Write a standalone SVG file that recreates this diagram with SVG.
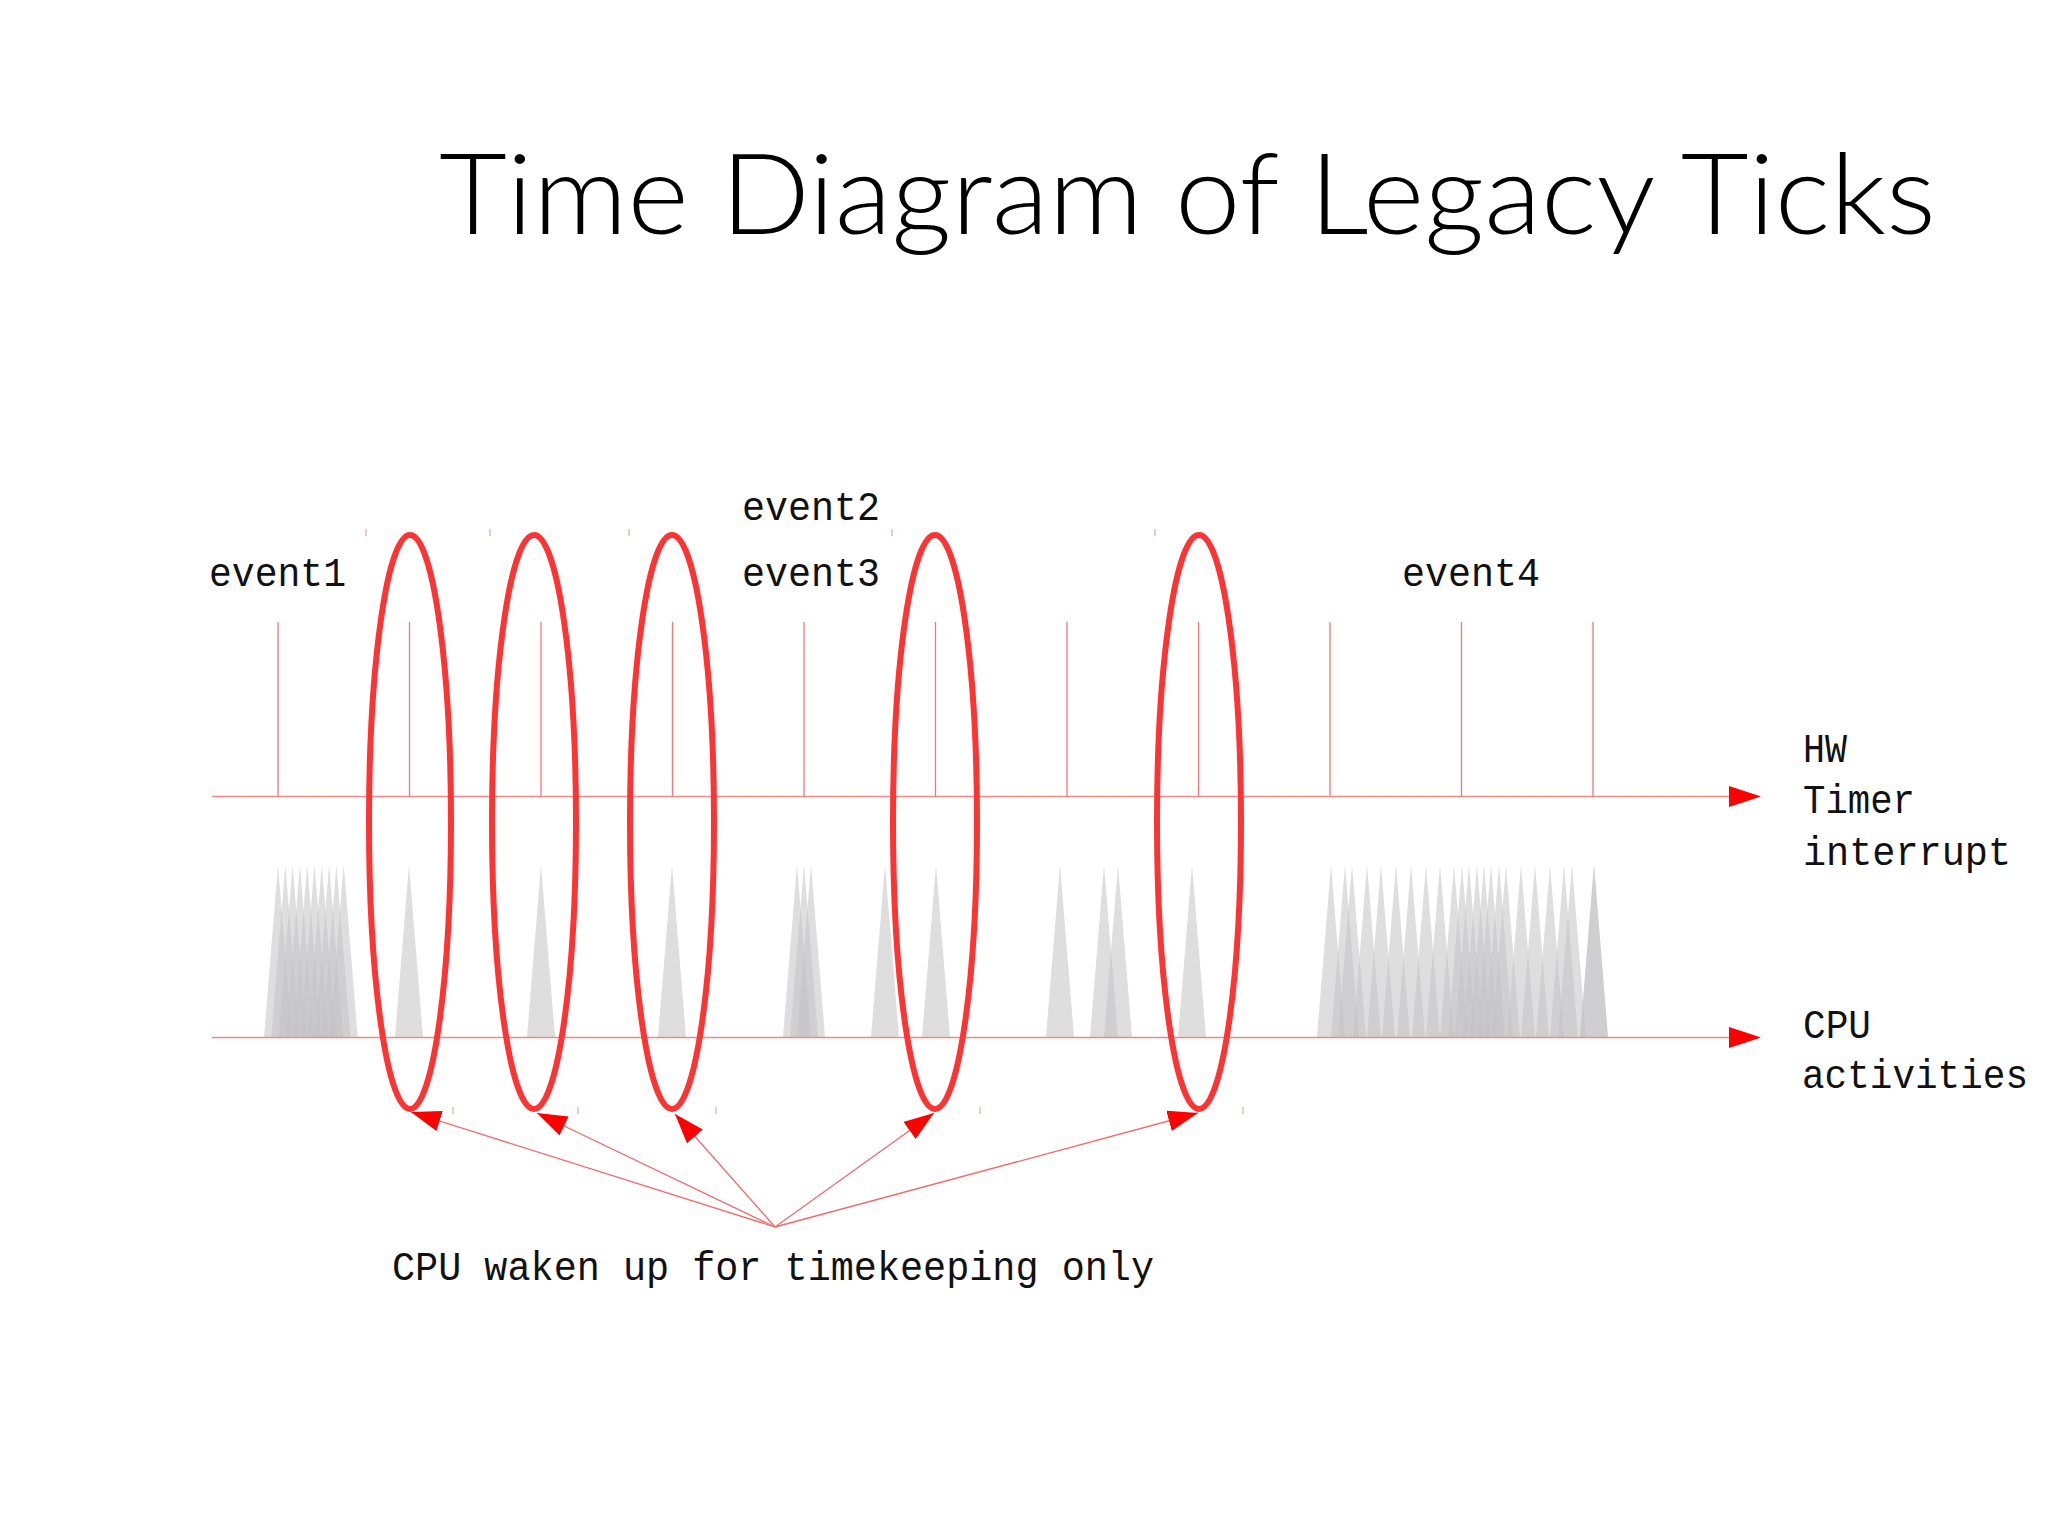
<svg xmlns="http://www.w3.org/2000/svg" xmlns:xlink="http://www.w3.org/1999/xlink" width="2048" height="1535" viewBox="0 0 2048 1535">
<style>
.title{font-family:Lato,"Open Sans","Liberation Sans",sans-serif;font-weight:300;font-size:113px;fill:#000}
.lbl{font-family:"Liberation Mono","DejaVu Sans Mono",monospace;font-size:40px;fill:#111}
.axis{stroke:#f08a8a;stroke-width:1.6;fill:none}
.tick{stroke:#f07878;stroke-width:1.3}
.spike{fill:#c2c2c4;fill-opacity:0.55}
.loop{fill:none;stroke:#fc3434;stroke-width:6}
.conn{stroke:#f06a6a;stroke-width:1.3;fill:none}
.head{fill:#ff0000}
.mark{stroke:#f2a0a0;stroke-width:1.2}
</style>
<defs>
<path id="sp" d="M0,865 L-14,1037 L14,1037 Z"/>
<marker id="arr" markerUnits="userSpaceOnUse" viewBox="0 0 30 21" markerWidth="30" markerHeight="21" refX="30" refY="10.5" orient="auto">
<path d="M0,0 L30,10.5 L0,21 Z" class="head"/>
</marker>
</defs>
<rect x="0" y="0" width="2048" height="1535" fill="#ffffff"/>

<g id="title">
<text class="title" x="439" y="234" textLength="1497" lengthAdjust="spacingAndGlyphs">Time Diagram of Legacy Ticks</text>
</g>

<g id="event-labels">
<text class="lbl" x="209" y="586" textLength="137" lengthAdjust="spacingAndGlyphs">event1</text>
<text class="lbl" x="742" y="520" textLength="138" lengthAdjust="spacingAndGlyphs">event2</text>
<text class="lbl" x="742" y="586" textLength="138" lengthAdjust="spacingAndGlyphs">event3</text>
<text class="lbl" x="1402" y="586" textLength="138" lengthAdjust="spacingAndGlyphs">event4</text>
</g>

<g id="hw-timer-axis">
<line class="axis" x1="212" y1="796.5" x2="1732" y2="796.5"/>
<path class="head" d="M1729,786 L1761,796.5 L1729,807 Z"/>
<g id="ticks">
<line class="tick" x1="278" y1="622" x2="278" y2="796"/>
<line class="tick" x1="409.5" y1="622" x2="409.5" y2="796"/>
<line class="tick" x1="541" y1="622" x2="541" y2="796"/>
<line class="tick" x1="672.5" y1="622" x2="672.5" y2="796"/>
<line class="tick" x1="804" y1="622" x2="804" y2="796"/>
<line class="tick" x1="935.5" y1="622" x2="935.5" y2="796"/>
<line class="tick" x1="1067" y1="622" x2="1067" y2="796"/>
<line class="tick" x1="1198.5" y1="622" x2="1198.5" y2="796"/>
<line class="tick" x1="1330" y1="622" x2="1330" y2="796"/>
<line class="tick" x1="1461.5" y1="622" x2="1461.5" y2="796"/>
<line class="tick" x1="1593" y1="622" x2="1593" y2="796"/>
</g>
<text class="lbl" x="1803" y="762" textLength="44" lengthAdjust="spacingAndGlyphs">HW</text>
<text class="lbl" x="1803" y="813" textLength="112" lengthAdjust="spacingAndGlyphs">Timer</text>
<text class="lbl" x="1803" y="865" textLength="208" lengthAdjust="spacingAndGlyphs">interrupt</text>
</g>

<g id="cpu-activities">
<g id="spikes">
<use xlink:href="#sp" href="#sp" class="spike" x="278"/>
<use xlink:href="#sp" href="#sp" class="spike" x="285.3"/>
<use xlink:href="#sp" href="#sp" class="spike" x="292.6"/>
<use xlink:href="#sp" href="#sp" class="spike" x="299.9"/>
<use xlink:href="#sp" href="#sp" class="spike" x="307.2"/>
<use xlink:href="#sp" href="#sp" class="spike" x="314.5"/>
<use xlink:href="#sp" href="#sp" class="spike" x="321.8"/>
<use xlink:href="#sp" href="#sp" class="spike" x="329.1"/>
<use xlink:href="#sp" href="#sp" class="spike" x="336.4"/>
<use xlink:href="#sp" href="#sp" class="spike" x="343.7"/>
<use xlink:href="#sp" href="#sp" class="spike" x="409"/>
<use xlink:href="#sp" href="#sp" class="spike" x="541"/>
<use xlink:href="#sp" href="#sp" class="spike" x="672"/>
<use xlink:href="#sp" href="#sp" class="spike" x="797"/>
<use xlink:href="#sp" href="#sp" class="spike" x="804"/>
<use xlink:href="#sp" href="#sp" class="spike" x="811"/>
<use xlink:href="#sp" href="#sp" class="spike" x="885"/>
<use xlink:href="#sp" href="#sp" class="spike" x="936"/>
<use xlink:href="#sp" href="#sp" class="spike" x="1060"/>
<use xlink:href="#sp" href="#sp" class="spike" x="1104"/>
<use xlink:href="#sp" href="#sp" class="spike" x="1118"/>
<use xlink:href="#sp" href="#sp" class="spike" x="1192"/>
<use xlink:href="#sp" href="#sp" class="spike" x="1331"/>
<use xlink:href="#sp" href="#sp" class="spike" x="1345"/>
<use xlink:href="#sp" href="#sp" class="spike" x="1352"/>
<use xlink:href="#sp" href="#sp" class="spike" x="1367"/>
<use xlink:href="#sp" href="#sp" class="spike" x="1381"/>
<use xlink:href="#sp" href="#sp" class="spike" x="1396"/>
<use xlink:href="#sp" href="#sp" class="spike" x="1411"/>
<use xlink:href="#sp" href="#sp" class="spike" x="1426"/>
<use xlink:href="#sp" href="#sp" class="spike" x="1440"/>
<use xlink:href="#sp" href="#sp" class="spike" x="1454"/>
<use xlink:href="#sp" href="#sp" class="spike" x="1462"/>
<use xlink:href="#sp" href="#sp" class="spike" x="1469"/>
<use xlink:href="#sp" href="#sp" class="spike" x="1477"/>
<use xlink:href="#sp" href="#sp" class="spike" x="1484"/>
<use xlink:href="#sp" href="#sp" class="spike" x="1491"/>
<use xlink:href="#sp" href="#sp" class="spike" x="1499"/>
<use xlink:href="#sp" href="#sp" class="spike" x="1506"/>
<use xlink:href="#sp" href="#sp" class="spike" x="1521"/>
<use xlink:href="#sp" href="#sp" class="spike" x="1535"/>
<use xlink:href="#sp" href="#sp" class="spike" x="1550"/>
<use xlink:href="#sp" href="#sp" class="spike" x="1564"/>
<use xlink:href="#sp" href="#sp" class="spike" x="1572"/>
<use xlink:href="#sp" href="#sp" class="spike" x="1594"/>
<use xlink:href="#sp" href="#sp" class="spike" x="1594"/>
</g>
<line class="axis" x1="212" y1="1037.5" x2="1732" y2="1037.5"/>
<path class="head" d="M1729,1027 L1761,1037.5 L1729,1048 Z"/>
<text class="lbl" x="1803" y="1038" textLength="68" lengthAdjust="spacingAndGlyphs">CPU</text>
<text class="lbl" x="1802" y="1088" textLength="226" lengthAdjust="spacingAndGlyphs">activities</text>
</g>

<g id="loop1">
<ellipse class="loop" cx="410" cy="822" rx="41" ry="287"/>
<line class="mark" x1="366" y1="529" x2="366" y2="536"/>
<line class="mark" x1="453" y1="1107" x2="453" y2="1114"/>
</g>
<g id="loop2">
<ellipse class="loop" cx="534" cy="822" rx="42" ry="287"/>
<line class="mark" x1="490" y1="529" x2="490" y2="536"/>
<line class="mark" x1="578" y1="1107" x2="578" y2="1114"/>
</g>
<g id="loop3">
<ellipse class="loop" cx="672" cy="822" rx="42" ry="287"/>
<line class="mark" x1="629" y1="529" x2="629" y2="536"/>
<line class="mark" x1="716" y1="1107" x2="716" y2="1114"/>
</g>
<g id="loop4">
<ellipse class="loop" cx="935" cy="822" rx="42" ry="287"/>
<line class="mark" x1="892" y1="529" x2="892" y2="536"/>
<line class="mark" x1="980" y1="1107" x2="980" y2="1114"/>
</g>
<g id="loop5">
<ellipse class="loop" cx="1199" cy="822" rx="42" ry="287"/>
<line class="mark" x1="1155" y1="529" x2="1155" y2="536"/>
<line class="mark" x1="1243" y1="1107" x2="1243" y2="1114"/>
</g>

<g id="connectors">
<line class="conn" x1="775" y1="1227" x2="411" y2="1112" marker-end="url(#arr)"/>
<line class="conn" x1="775" y1="1227" x2="537" y2="1113" marker-end="url(#arr)"/>
<line class="conn" x1="775" y1="1227" x2="675" y2="1114" marker-end="url(#arr)"/>
<line class="conn" x1="775" y1="1227" x2="934" y2="1113" marker-end="url(#arr)"/>
<line class="conn" x1="775" y1="1227" x2="1198" y2="1113" marker-end="url(#arr)"/>
</g>

<g id="caption">
<text class="lbl" x="392" y="1280" textLength="762" lengthAdjust="spacingAndGlyphs">CPU waken up for timekeeping only</text>
</g>
</svg>
